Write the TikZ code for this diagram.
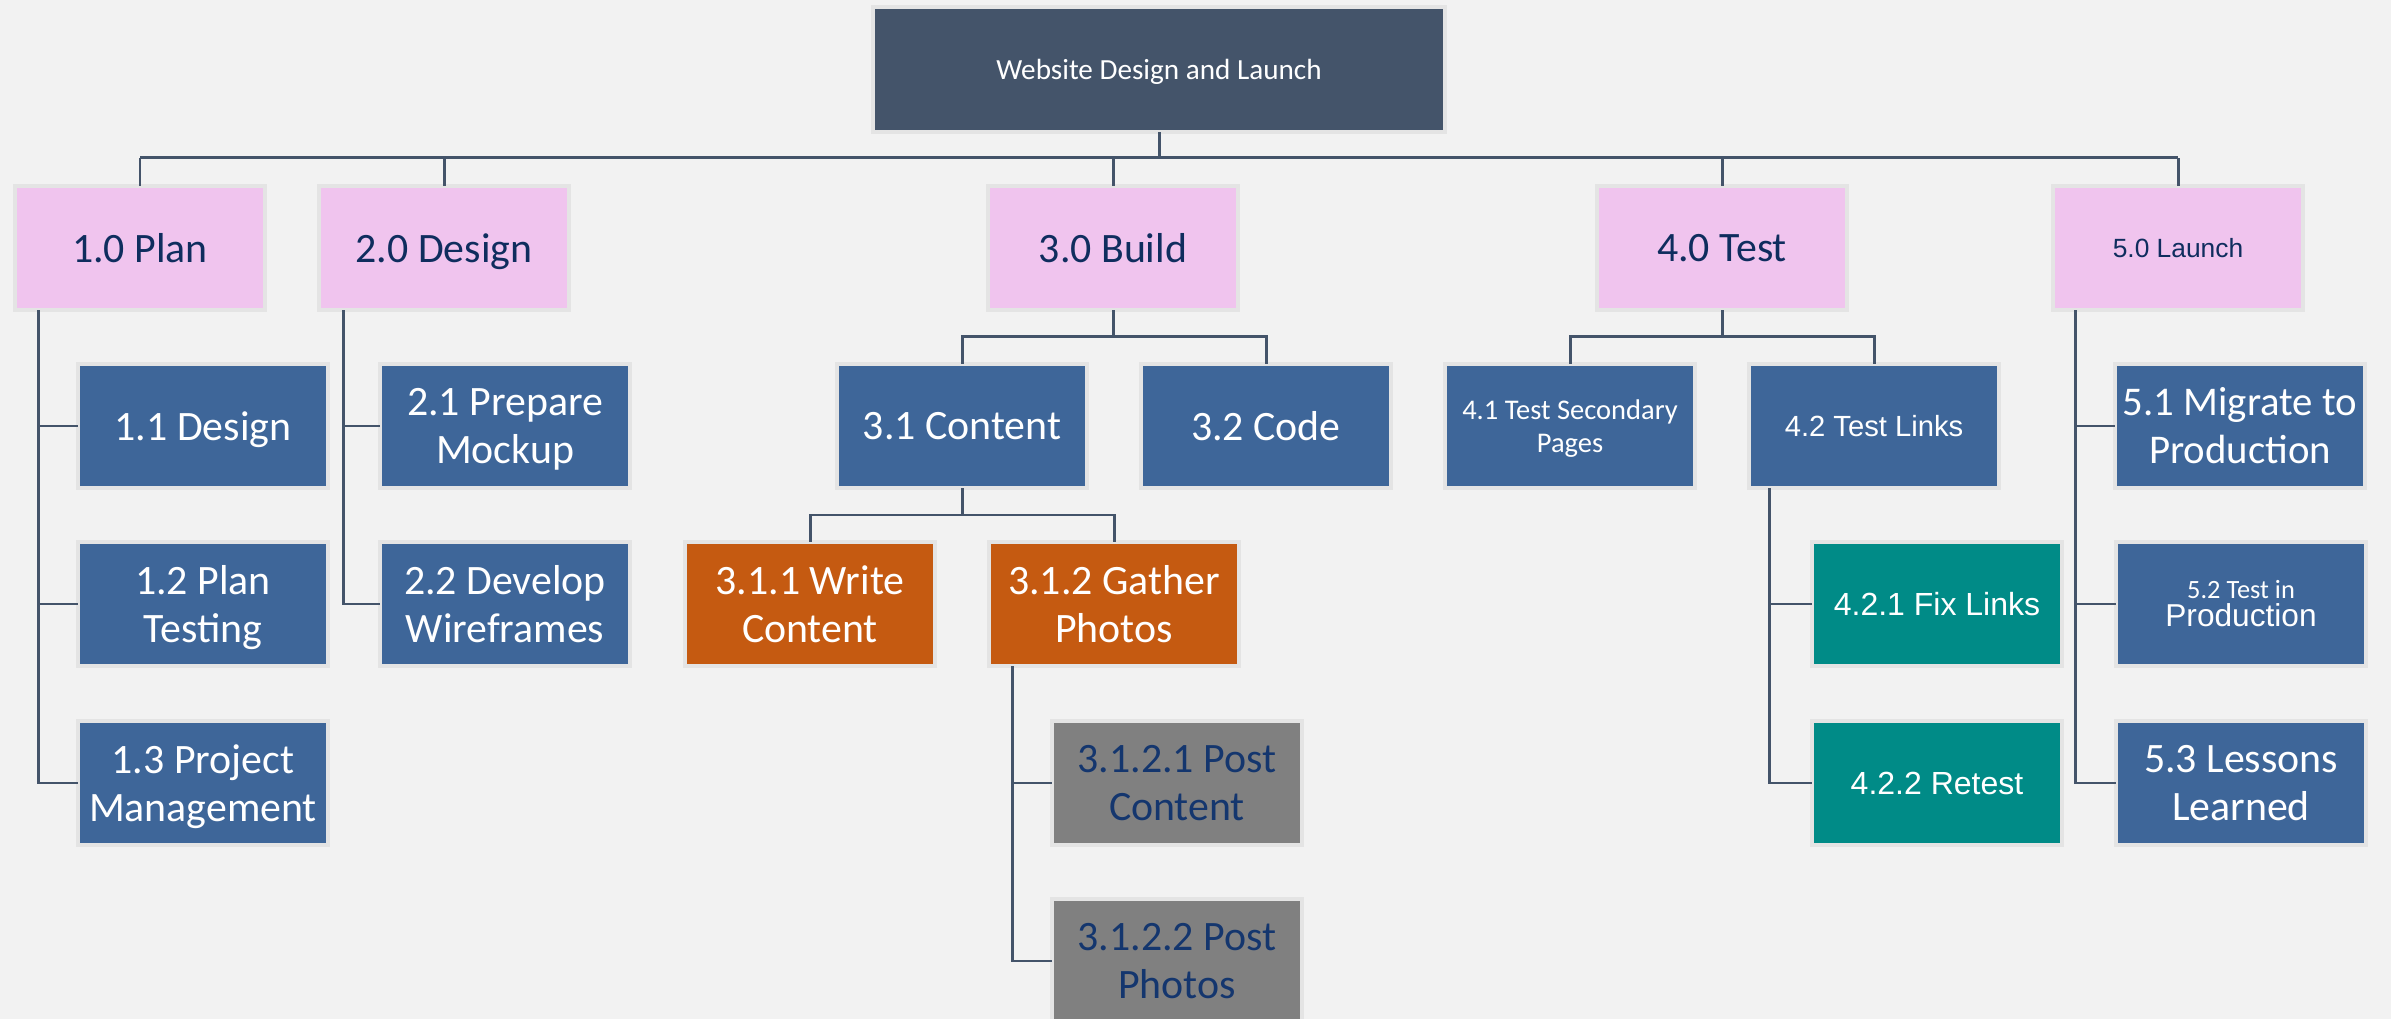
\documentclass[tikz,border=0pt]{standalone}
\usepackage{fontspec}
\setmainfont{Carlito}
\newfontfamily\arialfont{Liberation Sans}
\usetikzlibrary{calc}
\definecolor{bg}{HTML}{F2F2F2}
\definecolor{halo}{HTML}{E4E4E4}
\definecolor{topc}{HTML}{44546A}
\definecolor{linec}{HTML}{44546A}
\definecolor{pinkc}{HTML}{F0C4EE}
\definecolor{bluec}{HTML}{3E6699}
\definecolor{orangec}{HTML}{C55A11}
\definecolor{grayc}{HTML}{808080}
\definecolor{tealc}{HTML}{008B87}
\definecolor{navy}{HTML}{0F2D5E}
\definecolor{navyb}{HTML}{14366E}
% word whose descenders do not shift the label off the box centre
\newcommand{\nodesc}[1]{\raisebox{0pt}[\height][0pt]{#1}}
\begin{document}
\begin{tikzpicture}[x=0.01cm,y=-0.01cm,
  box/.style={draw=halo, line width=1.2pt, minimum width=2.5cm, minimum height=1.24cm,
    inner sep=0pt, outer sep=0pt, align=center,
    font=\fontsize{11.9}{13.6}\selectfont},
  pinkbox/.style={box, fill=pinkc, text=navy},
  bluebox/.style={box, fill=bluec, text=white},
  orangebox/.style={box, fill=orangec, text=white},
  graybox/.style={box, fill=grayc, text=navyb},
  tealbox/.style={box, fill=tealc, text=white, font=\arialfont\fontsize{9.1}{10.5}\selectfont},
  link/.style={draw=linec, line width=0.85pt}
]
% canvas
\fill[bg] (0,0) rectangle (2391,1019);
\useasboundingbox (0,0) rectangle (2391,1019);

% root
\node[box, fill=topc, text=white, minimum width=5.72cm, minimum height=1.25cm,
  font=\fontsize{8.3}{10}\selectfont] (root) at (1159,69.5) {Website \nodesc{Design} and Launch};

% level 1
\node[pinkbox] (l1) at (140,248) {1.0 Plan};
\node[pinkbox] (l2) at (444,248) {2.0 \nodesc{Design}};
\node[pinkbox] (l3) at (1113,248) {3.0 Build};
\node[pinkbox] (l4) at (1722,248) {4.0 Test};
\node[pinkbox, font=\arialfont\fontsize{7.5}{9}\selectfont] (l5) at (2178,248) {5.0 Launch};

% branch 1
\node[bluebox] (p11) at (203,426) {1.1 \nodesc{Design}};
\node[bluebox] (p12) at (203,604) {1.2 Plan\\\nodesc{Testing}};
\node[bluebox] (p13) at (203,783) {1.3 Project\\\nodesc{Management}};

% branch 2
\node[bluebox] (d21) at (505,426) {2.1 Prepare\\\nodesc{Mockup}};
\node[bluebox] (d22) at (505,604) {2.2 Develop\\Wireframes};

% branch 3
\node[bluebox] (b31) at (962,426) {3.1 Content};
\node[bluebox] (b32) at (1266,426) {3.2 Code};
\node[orangebox] (b311) at (810,604) {3.1.1 Write\\Content};
\node[orangebox] (b312) at (1114,604) {3.1.2 Gather\\Photos};
\node[graybox] (b3121) at (1177,783) {3.1.2.1 Post\\Content};
\node[graybox] (b3122) at (1177,961) {3.1.2.2 Post\\Photos};

% branch 4
\node[bluebox, font=\fontsize{8.1}{9.6}\selectfont] (t41) at (1570,426) {4.1 Test Secondary\\\nodesc{Pages}};
\node[bluebox, font=\arialfont\fontsize{8.3}{10}\selectfont] (t42) at (1874,426) {4.2 Test Links};
\node[tealbox] (t421) at (1937,604) {4.2.1 Fix Links};
\node[tealbox] (t422) at (1937,783) {4.2.2 Retest};

% branch 5
\node[bluebox, font=\fontsize{11.6}{13.6}\selectfont] (n51) at (2240,426) {5.1 Migrate to\\Production};
\node[bluebox, font=\fontsize{7.5}{9}\selectfont] (n52) at (2241,604)
  {5.2 Test in\\[-1pt]{\arialfont\fontsize{9}{10}\selectfont Production}};
\node[bluebox] (n53) at (2241,783) {5.3 Lessons\\Learned};

% root bus
\coordinate (bus) at (1159,158);
\draw[link] (root.south) -- (root.south |- bus);
\draw[link] (l1.north |- bus) -- (l5.north |- bus);
\foreach \n in {l1,l2,l3,l4,l5}
  \draw[link] (\n.north) -- (\n.north |- bus);

% 1.0 spine
\coordinate (s1) at ([xshift=0.24cm]l1.south west);
\draw[link] (s1) |- (p13.west);
\draw[link] (p11.west) -- (p11.west -| s1);
\draw[link] (p12.west) -- (p12.west -| s1);

% 2.0 spine
\coordinate (s2) at ([xshift=0.25cm]l2.south west);
\draw[link] (s2) |- (d22.west);
\draw[link] (d21.west) -- (d21.west -| s2);

% 3.0 tree
\coordinate (bus3) at (1113,337);
\draw[link] (l3.south) -- (l3.south |- bus3);
\draw[link] (b31.north) |- (b32.north |- bus3) -- (b32.north);
\coordinate (bus31) at (962,515);
\draw[link] (b31.south) -- (b31.south |- bus31);
\draw[link] (b311.north) |- (b312.north |- bus31) -- (b312.north);
\coordinate (s312) at ([xshift=0.24cm]b312.south west);
\draw[link] (s312) |- (b3122.west);
\draw[link] (b3121.west) -- (b3121.west -| s312);

% 4.0 tree
\coordinate (bus4) at (1722,337);
\draw[link] (l4.south) -- (l4.south |- bus4);
\draw[link] (t41.north) |- (t42.north |- bus4) -- (t42.north);
\coordinate (s42) at ([xshift=0.21cm]t42.south west);
\draw[link] (s42) |- (t422.west);
\draw[link] (t421.west) -- (t421.west -| s42);

% 5.0 spine
\coordinate (s5) at ([xshift=0.23cm]l5.south west);
\draw[link] (s5) |- (n53.west);
\draw[link] (n51.west) -- (n51.west -| s5);
\draw[link] (n52.west) -- (n52.west -| s5);
\end{tikzpicture}
\end{document}
